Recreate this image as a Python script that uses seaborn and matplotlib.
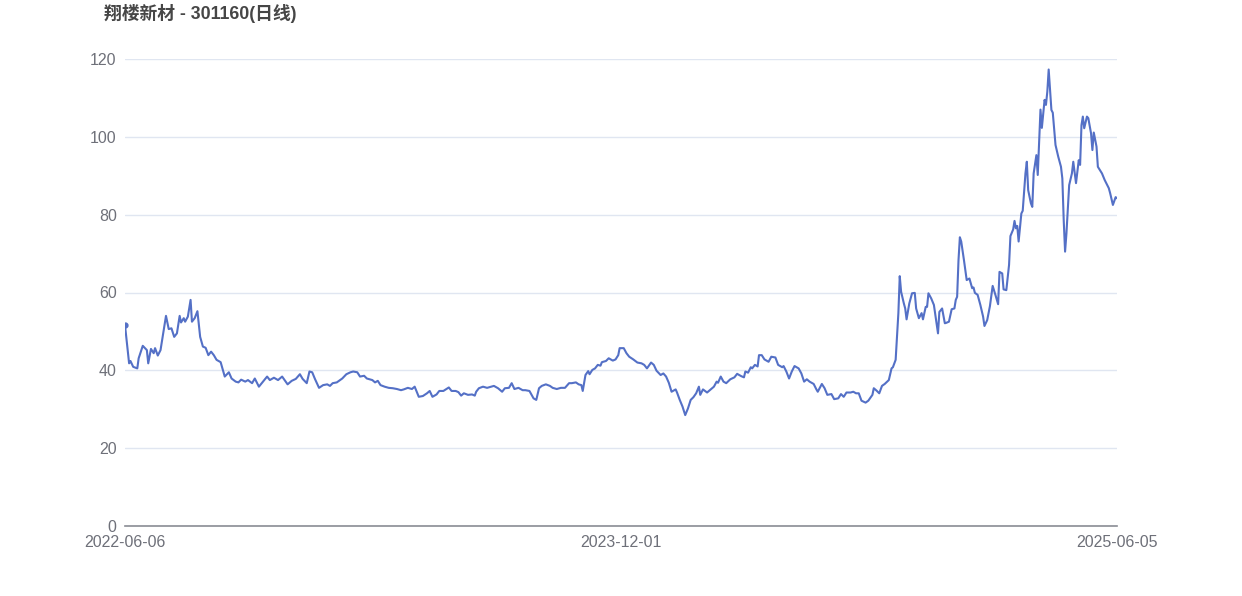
import matplotlib
matplotlib.use("Agg")
import matplotlib.pyplot as plt
import seaborn as sns

# daily close of 301160, trading-day index from 2022-06-06 (0) to 2025-06-05 (726)
day_idx = [
    0, 3, 4, 6, 9, 10, 13, 16, 17, 19, 21, 22, 24, 26, 30, 32, 34, 36, 38, 40,
    41, 43, 44, 46, 48, 49, 51, 53, 55, 57, 59, 61, 63, 65, 67, 70, 73, 76, 78, 81,
    83, 85, 88, 90, 93, 95, 98, 101, 104, 106, 109, 112, 115, 116, 119, 122, 125, 128, 130, 133,
    135, 137, 139, 142, 145, 148, 150, 152, 155, 159, 162, 165, 167, 170, 172, 175, 177, 181, 183, 185,
    187, 190, 193, 196, 199, 202, 204, 207, 210, 212, 215, 218, 221, 223, 225, 228, 230, 233, 237, 239,
    242, 244, 246, 248, 251, 254, 256, 257, 259, 262, 265, 268, 270, 273, 276, 278, 281, 283, 285, 288,
    291, 293, 296, 299, 301, 303, 305, 308, 311, 313, 316, 319, 322, 325, 327, 330, 332, 334, 335, 337,
    339, 340, 342, 344, 346, 348, 349, 352, 354, 356, 357, 359, 361, 362, 365, 367, 369, 372, 375, 378,
    380, 382, 385, 387, 389, 392, 394, 396, 398, 400, 403, 404, 406, 408, 410, 412, 414, 416, 418, 420,
    421, 423, 426, 428, 431, 433, 434, 436, 438, 440, 443, 446, 448, 451, 453, 454, 456, 458, 459, 461,
    463, 464, 466, 468, 471, 473, 476, 478, 481, 482, 484, 486, 488, 490, 493, 495, 497, 499, 501, 504,
    506, 507, 510, 512, 514, 517, 519, 522, 524, 526, 528, 531, 533, 535, 537, 539, 542, 544, 547, 548,
    550, 552, 554, 556, 559, 561, 562, 564, 566, 567, 568, 570, 571, 572, 574, 576, 578, 579, 581, 583,
    584, 586, 587, 588, 590, 592, 595, 596, 598, 600, 601, 603, 605, 607, 608, 609, 610, 611, 612, 614,
    616, 618, 620, 621, 622, 624, 626, 628, 629, 631, 633, 635, 637, 639, 640, 642, 643, 645, 647, 648,
    650, 651, 652, 653, 654, 656, 657, 659, 660, 661, 663, 664, 665, 667, 668, 670, 671, 673, 674, 675,
    676, 678, 679, 681, 683, 685, 686, 687, 688, 689, 691, 693, 694, 696, 698, 699, 700, 701, 702, 704,
    705, 707, 708, 709, 711, 712, 715, 717, 720, 721, 723, 725, 726,
]
close = [
    51.6, 41.8, 42.4, 40.9, 40.5, 43.1, 46.3, 45.2, 41.8, 45.5, 44.4, 45.7, 43.8, 45.2, 54.0, 50.6, 50.8, 48.6, 49.5, 54.0,
    52.3, 53.4, 52.5, 53.8, 58.1, 52.5, 53.4, 55.2, 48.6, 46.1, 45.8, 43.9, 44.8, 43.9, 42.7, 42.1, 38.4, 39.5, 37.9, 37.1,
    36.9, 37.6, 37.1, 37.5, 36.7, 37.9, 35.8, 37.1, 38.4, 37.5, 38.1, 37.5, 38.4, 37.9, 36.4, 37.3, 37.8, 39.0, 37.8, 36.7,
    39.7, 39.5, 37.8, 35.5, 36.2, 36.4, 36.0, 36.7, 36.9, 37.9, 39.0, 39.5, 39.7, 39.5, 38.4, 38.6, 37.9, 37.5, 36.9, 37.3,
    36.2, 35.8, 35.5, 35.4, 35.2, 34.9, 35.1, 35.5, 35.2, 35.8, 33.2, 33.4, 34.1, 34.7, 33.2, 33.8, 34.7, 34.7, 35.6, 34.7,
    34.7, 34.4, 33.5, 34.1, 33.7, 33.8, 33.5, 34.5, 35.4, 35.8, 35.5, 35.8, 36.0, 35.4, 34.5, 35.4, 35.5, 36.7, 35.2, 35.5,
    34.9, 34.9, 34.7, 32.8, 32.4, 35.4, 36.0, 36.4, 36.0, 35.5, 35.2, 35.5, 35.5, 36.7, 36.7, 36.9, 36.4, 36.2, 34.7, 38.8,
    39.8, 39.0, 40.1, 40.5, 41.4, 41.2, 42.1, 42.4, 43.1, 42.7, 42.5, 42.8, 43.9, 45.7, 45.7, 44.4, 43.5, 42.8, 42.0, 41.8,
    41.4, 40.5, 42.0, 41.4, 39.9, 38.8, 39.2, 38.4, 36.8, 34.5, 35.1, 34.3, 32.4, 30.7, 28.5, 30.2, 32.4, 33.1, 34.1, 35.8,
    33.7, 35.1, 34.3, 34.9, 35.8, 37.1, 36.8, 38.4, 37.1, 36.7, 37.7, 38.2, 39.1, 38.5, 38.2, 39.7, 39.4, 40.8, 40.5, 41.4,
    41.0, 43.9, 43.9, 42.8, 42.2, 43.5, 43.3, 41.4, 40.8, 41.1, 39.7, 37.9, 39.7, 41.1, 40.5, 39.2, 37.1, 37.7, 37.1, 36.5,
    35.1, 34.5, 36.5, 35.4, 33.7, 33.9, 32.6, 32.8, 33.9, 33.2, 34.3, 34.3, 34.5, 34.1, 34.1, 32.2, 31.7, 32.2, 33.7, 35.4,
    34.8, 34.1, 36.0, 36.5, 37.5, 40.5, 40.8, 42.7, 54.7, 64.2, 60.2, 57.2, 55.9, 53.1, 57.2, 59.8, 59.9, 55.9, 53.4, 54.7,
    53.1, 56.3, 56.3, 59.8, 58.5, 56.8, 49.5, 55.0, 55.9, 52.1, 52.2, 52.5, 55.7, 55.9, 58.1, 58.9, 68.3, 74.2, 73.1, 68.3,
    63.2, 63.6, 61.1, 61.3, 59.9, 59.4, 56.8, 53.8, 51.4, 52.9, 56.5, 61.7, 59.4, 57.0, 65.3, 64.9, 60.8, 60.6, 67.1, 74.5,
    76.2, 78.4, 76.5, 77.1, 73.1, 80.3, 81.0, 90.6, 93.6, 86.3, 82.9, 82.0, 90.6, 95.3, 90.2, 107.0, 102.3, 109.5, 108.2, 111.6,
    117.3, 106.9, 106.2, 97.9, 94.9, 92.3, 89.3, 78.6, 70.5, 75.2, 87.6, 90.6, 93.6, 88.1, 94.0, 92.8, 103.0, 105.2, 102.2, 105.2,
    104.8, 100.9, 96.6, 101.1, 97.5, 92.3, 90.6, 88.9, 86.8, 85.5, 82.5, 84.5, 84.2,
]
tick_pos = [0, 363, 726]
tick_labels = ["2022-06-06", "2023-12-01", "2025-06-05"]
title = "翔楼新材 - 301160(日线)"

sns.set_style("white")
plt.rcParams["font.family"] = ["Liberation Sans", "Noto Sans CJK SC", "DejaVu Sans"]

fig = plt.figure(figsize=(12.42, 5.96), dpi=100)
ax = fig.add_axes([125 / 1242, 1 - 526 / 596, 992 / 1242, 467 / 596])

sns.lineplot(x=day_idx, y=close, ax=ax, color="#5470c6", linewidth=1.5,
             estimator=None, sort=False)
ax.plot(day_idx[:1], close[:1], marker="o", markersize=3.5, color="#5470c6")

ax.set_xlim(0, 726)
ax.set_ylim(0, 120)
ax.set_yticks([0, 20, 40, 60, 80, 100, 120])
ax.set_xticks(tick_pos)
ax.set_xticklabels(tick_labels)
ax.grid(axis="y", color="#e0e6f1", linewidth=1)
ax.set_axisbelow(True)
for s in ["top", "right", "left"]:
    ax.spines[s].set_visible(False)
ax.spines["bottom"].set_color("#8a8c94")
ax.spines["bottom"].set_linewidth(1.2)
ax.tick_params(axis="both", length=0, labelsize=11.5, labelcolor="#6e7079")
ax.tick_params(axis="y", pad=6)
ax.tick_params(axis="x", pad=6.5)

fig.text(104 / 1242, 1 - 13 / 596, title, fontsize=12.8, fontweight="bold",
         color="#464646", ha="left", va="center")

fig.savefig("out.png", dpi=100)
